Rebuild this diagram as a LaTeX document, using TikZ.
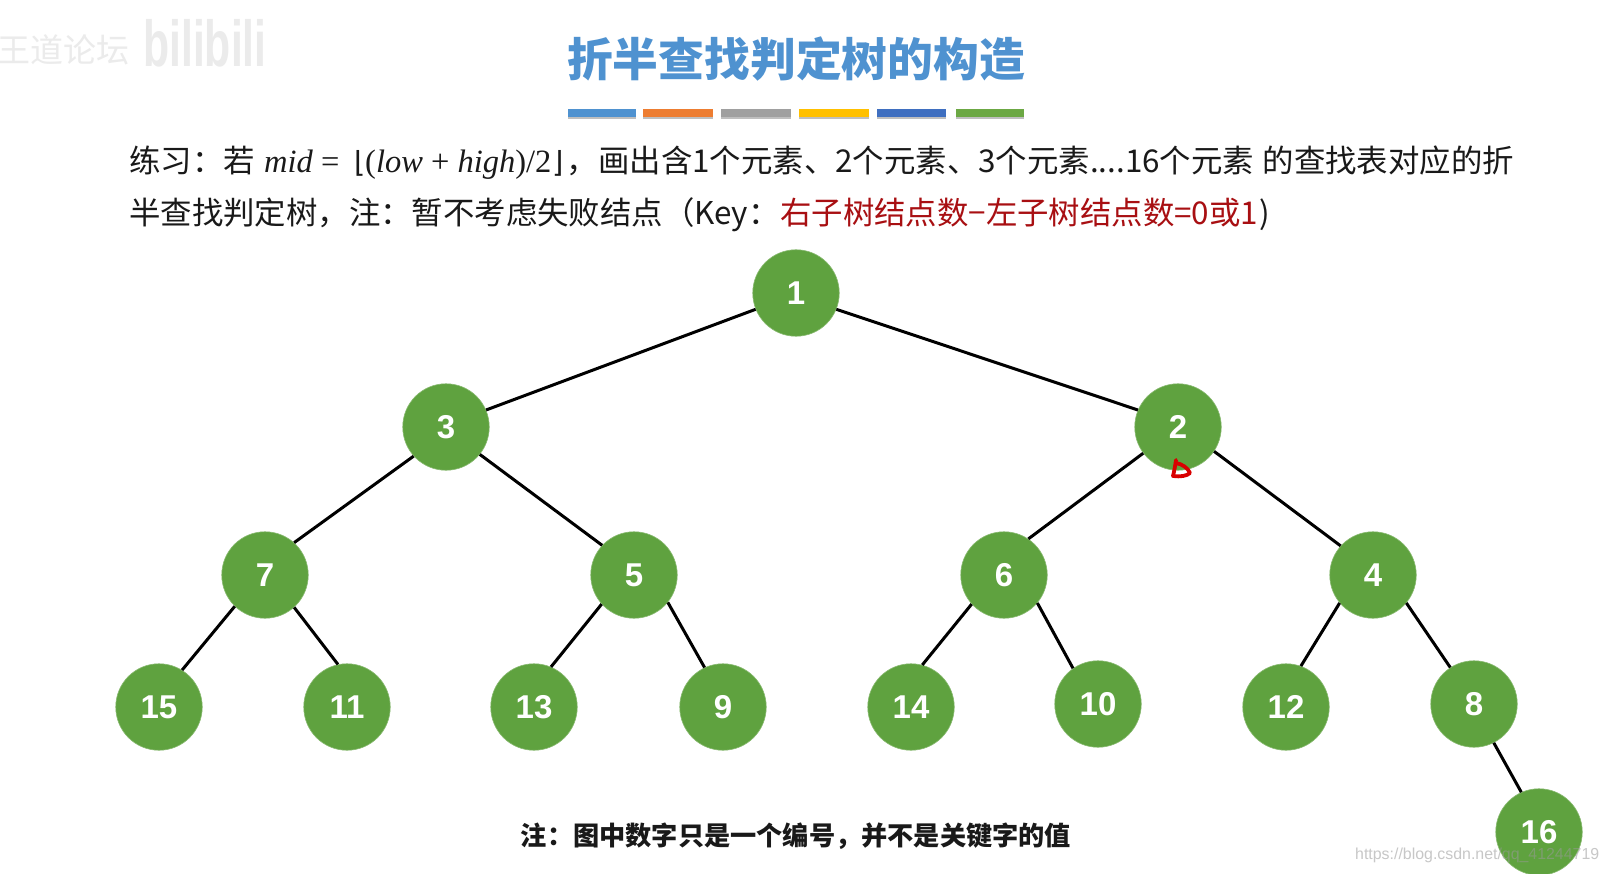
\documentclass[tikz,border=0pt]{standalone}
\usepackage{fontspec}
\setmainfont{Liberation Sans}
\newfontfamily\cjk{Noto Sans CJK SC}
\newfontfamily\tms{Liberation Serif}
\newfontfamily\lbs{Liberation Sans}
\newfontfamily\dej{DejaVu Sans}
\newcommand{\fsz}[1]{\fontsize{#1}{#1}\selectfont}
\definecolor{titleblue}{HTML}{4F92D0}
\definecolor{nodegreen}{HTML}{5FA23F}
\definecolor{darkred}{HTML}{A80F12}
\tikzset{
  tnode/.style={circle,fill=nodegreen,draw=nodegreen!75!white,line width=0.6pt,minimum size=86.5pt,inner sep=0pt,text=white,font=\lbs\bfseries\fsz{33}},
  edge/.style={line width=3pt,black},
  bodytext/.style={inner sep=0pt,anchor=west,text height=27pt,text depth=6pt,font=\cjk\fsz{31.4},text=black!90},
  mathtext/.style={inner sep=0pt,anchor=west,text height=27pt,text depth=6pt,font=\tms\fsz{32.5},text=black!90},
  floorsym/.style={inner sep=0pt,anchor=west,text height=27pt,text depth=6pt,font=\dej\fsz{29},text=black!90},
}
\begin{document}
\begin{tikzpicture}[x=1pt,y=-1pt]
\useasboundingbox (0,0) rectangle (1608,874);
\clip (0,0) rectangle (1608,874);
\fill[white] (0,0) rectangle (1608,874);
% watermark top-left
\node[inner sep=0pt,anchor=west,font=\cjk\fsz{33},text=black!8] (wmA) at (-3,50) {王道论坛};
\node[inner sep=0pt,anchor=west,font=\lbs\bfseries\fsz{50},text=black!8] (wmB) at (143,43) {\scalebox{0.855}[1.3]{bilibili}};
% title
\node[inner sep=0pt,font=\cjk\bfseries\fsz{45.8},text=titleblue] (title) at (796,59) {折半查找判定树的构造};
% bars
\foreach \n/\xa/\xb/\c in {a/568/636/4F92D0,b/643/713/ED7D31,c/721/791/A0A0A0,d/799/869/FFC000,e/877/946/3F6FC0,f/956/1024/6CA844}{
  \definecolor{barc}{HTML}{\c}
  \fill[black!25] (\xa,111) rectangle (\xb,119);
  \fill[barc] (\xa,109) rectangle (\xb,117);
}
% line 1
\node[bodytext] (l1a) at (129,162) {练习：若};
\node[mathtext] (l1b) at (264,162) {\itshape mid\/ \upshape = };
\node[floorsym] (l1c) at (354,162) {⌊};
\node[mathtext] (l1d) at (365,162) {(\textit{low} + \textit{high})/2};
\node[floorsym] (l1e) at (552,162) {⌋};
\node[bodytext] (l1f) at (566,162) {，};
\node[bodytext] (l1g) at (598,162) {画出含1个元素、2个元素、3个元素....16个元素};
\node[bodytext,anchor=east] (l1h) at (1514,162) {的查找表对应的折};
% line 2
\node[bodytext] (l2a) at (129,214.5) {半查找判定树，注：暂不考虑失败结点（Key：};
\node[bodytext,text=darkred] (l2b) at (780,214.5) {右子树结点数−左子树结点数=0或1};
\node[bodytext,anchor=east] (l2c) at (1270,214.5) {)};
% tree nodes
\node[tnode] (n1) at (796,293) {1};
\node[tnode] (n3) at (446,427) {3};
\node[tnode] (n2) at (1178,427) {2};
\node[tnode] (n7) at (265,575) {7};
\node[tnode] (n5) at (634,575) {5};
\node[tnode] (n6) at (1004,575) {6};
\node[tnode] (n4) at (1373,575) {4};
\node[tnode] (n15) at (159,707) {15};
\node[tnode] (n11) at (347,707) {11};
\node[tnode] (n13) at (534,707) {13};
\node[tnode] (n9) at (723,707) {9};
\node[tnode] (n14) at (911,707) {14};
\node[tnode] (n10) at (1098,704) {10};
\node[tnode] (n12) at (1286,707) {12};
\node[tnode] (n8) at (1474,704) {8};
\node[tnode] (n16) at (1539,832) {16};
% edges
\foreach \a/\b in {n1.202/n3.23,n1.338/n2.157,n3.222/n7.48,n3.321/n5.137,n2.217/n6.56,n2.326/n4.138,
  n7.226/n15.58,n7.312/n11.102,n5.222/n13.67,n5.321/n9.115,n6.222/n14.75,n6.320/n10.125,
  n4.220/n12.70,n4.320/n8.123,n8.297/n16.114}
  \draw[edge] (\a) -- (\b);
% red scribble
\draw[red!85!black,line width=3.8pt,line cap=round,line join=round]
  (1176,460) .. controls (1175,467) and (1174,472) .. (1173,476)
  .. controls (1180,477) and (1187,476) .. (1190,473)
  .. controls (1188,468) and (1182,464) .. (1176,463);
% note
\node[inner sep=0pt,font=\cjk\bfseries\fsz{26.2},text=black!90] (note) at (796,836) {注：图中数字只是一个编号，并不是关键字的值};
% watermark bottom-right
\node[inner sep=0pt,anchor=west,font=\lbs\fsz{15.9},text=black!40,opacity=0.55] (wmC) at (1355,855) {https://blog.csdn.net/qq\_41244719};
\end{tikzpicture}
\end{document}
